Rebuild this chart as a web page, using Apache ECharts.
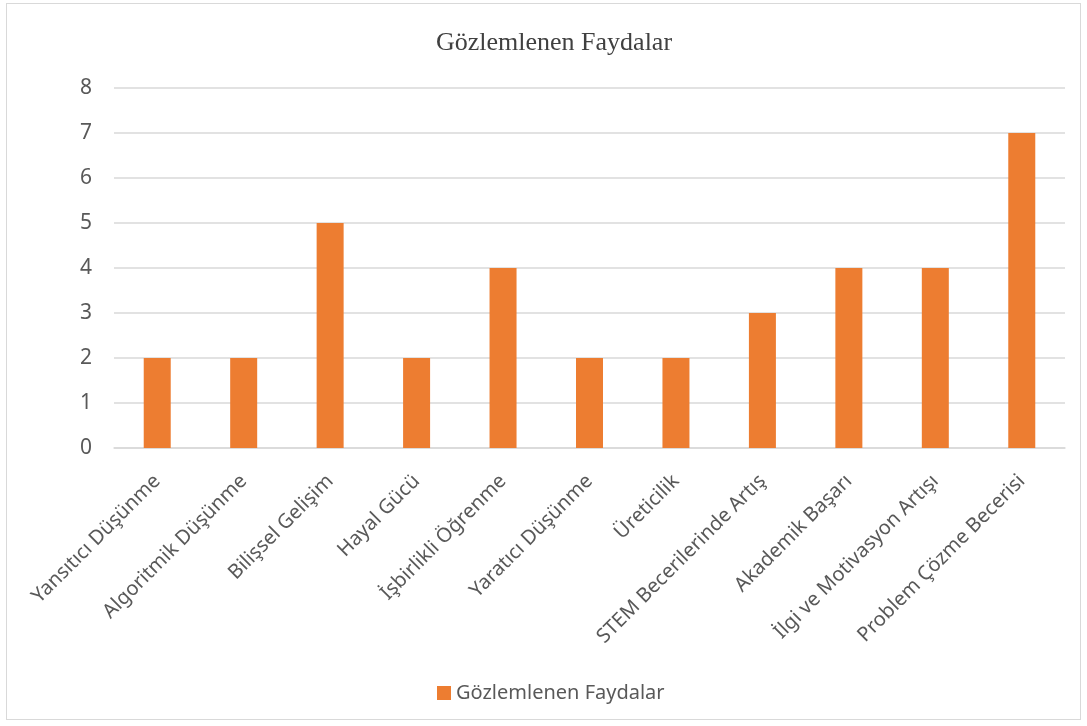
<!DOCTYPE html>
<html><head><meta charset="utf-8">
<script src="https://cdn.jsdelivr.net/npm/echarts@6/dist/echarts.min.js"></script>
<style>
html,body{margin:0;padding:0;background:#fff;}
#frame{position:absolute;left:6px;top:3px;width:1075px;height:717px;border:1px solid #d9d9d9;box-sizing:border-box;}
#c{position:absolute;left:0;top:0;width:1087px;height:726px;}
</style></head>
<body><div id="frame"></div><div id="c"></div>
<script>
const titleText = "Gözlemlenen Faydalar";
const seriesName = "Gözlemlenen Faydalar";
const categories = ["Yansıtıcı Düşünme","Algoritmik Düşünme","Bilişsel Gelişim","Hayal Gücü","İşbirlikli Öğrenme","Yaratıcı Düşünme","Üreticilik","STEM Becerilerinde Artış","Akademik Başarı","İlgi ve Motivasyon Artışı","Problem Çözme Becerisi"];
const values = [2,2,5,2,4,2,2,3,4,4,7];
const yTicks = [0,1,2,3,4,5,6,7,8];

const chart = echarts.init(document.getElementById('c'), null, {renderer:'canvas'});
chart.setOption({
  animation:false,
  title:{text:titleText,left:431,top:25,textStyle:{fontFamily:'Liberation Serif',fontSize:26,fontWeight:'normal',color:'#404040'}},
  legend:{bottom:18,left:432,itemWidth:14,itemHeight:14,itemGap:6,icon:'rect',
    textStyle:{fontFamily:'Noto Sans',fontSize:20,color:'#595959'},data:[seriesName]},
  grid:{left:114,right:22,top:88,bottom:278,containLabel:false},
  xAxis:{type:'category',data:categories,
    axisLine:{lineStyle:{color:'#d9d9d9',width:1.5}},axisTick:{show:false},
    axisLabel:{rotate:45,interval:0,margin:30,fontFamily:'Noto Sans',fontSize:20,color:'#595959'}},
  yAxis:{type:'value',min:yTicks[0],max:yTicks[yTicks.length-1],interval:1,
    axisLine:{show:false},axisTick:{show:false},
    splitLine:{lineStyle:{color:'#d9d9d9',width:1.5}},
    axisLabel:{margin:22,fontFamily:'Noto Sans',fontSize:21,color:'#595959'}},
  series:[{name:seriesName,type:'bar',data:values,barWidth:27,itemStyle:{color:'#ED7D31'}}]
});
</script></body></html>
